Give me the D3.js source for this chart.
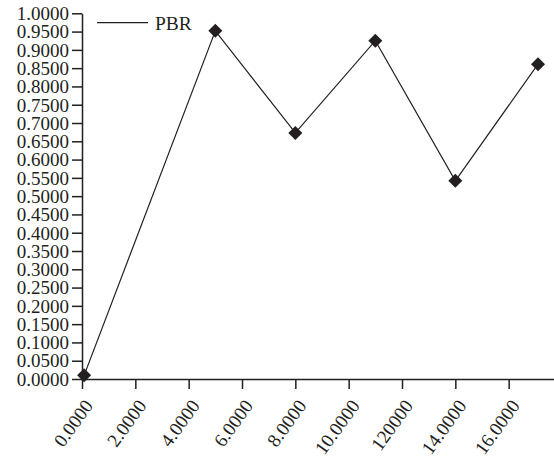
<!DOCTYPE html>
<html><head><meta charset="utf-8">
<script src="https://cdn.jsdelivr.net/npm/d3@7"></script>
<style>body{margin:0;background:#fff}svg{display:block}text{font-family:"Liberation Serif","Times New Roman",serif;fill:#231f20}</style>
</head><body><svg id="c" width="554" height="459"></svg>
<script>
const xValues = [0.08, 5.0, 8.0, 11.0, 14.0, 17.1];
const pbrValues = [0.01, 0.952, 0.673, 0.925, 0.542, 0.861];
const xTickValues = [0, 2, 4, 6, 8, 10, 12, 14, 16];
const xTickLabels = ["0.0000","2.0000","4.0000","6.0000","8.0000","10.0000","120000","14.0000","16.0000"];
const yTickValues = d3.range(0, 21).map(i => i * 0.05);
const seriesName = "PBR";

const svg = d3.select("#c");
const x = d3.scaleLinear().domain([0, 17.7]).range([82, 554]);
const y = d3.scaleLinear().domain([0, 1]).range([379, 13.3]);
const axisColor = "#231f20";

const yAxis = svg.append("g").attr("transform", "translate(82,0)")
  .call(d3.axisLeft(y).tickValues(yTickValues).tickFormat(d3.format(".4f")).tickSize(10).tickSizeOuter(0).tickPadding(3));
yAxis.selectAll("text").style("font-size", "19px").attr("dy", "0.33em");
yAxis.selectAll("line,path").attr("stroke", axisColor).attr("stroke-width", 1.5);

const xAxis = svg.append("g").attr("transform", "translate(0,379)")
  .call(d3.axisBottom(x).tickValues(xTickValues).tickFormat((d,i) => xTickLabels[i]).tickSize(10).tickSizeOuter(0));
xAxis.selectAll("line,path").attr("stroke", axisColor).attr("stroke-width", 1.5);
xAxis.selectAll("text").style("font-size", "19px")
  .attr("text-anchor", "end").attr("dy", "0.35em")
  .attr("transform", "translate(6,23) rotate(-54)")
  .attr("x", 0).attr("y", 0);

const line = d3.line().x((d,i) => x(xValues[i])).y(d => y(d));
svg.append("path").datum(pbrValues).attr("d", line)
  .attr("fill", "none").attr("stroke", "#231f20").attr("stroke-width", 1.2);

svg.selectAll("path.pt").data(pbrValues).enter().append("path").attr("class","pt")
  .attr("d", d3.symbol().type(d3.symbolSquare).size(98))
  .attr("transform", (d,i) => `translate(${x(xValues[i])},${y(d)}) rotate(45)`)
  .attr("fill", "#231f20");

svg.append("line").attr("x1", 97).attr("x2", 148).attr("y1", 22.7).attr("y2", 22.7)
  .attr("stroke", "#231f20").attr("stroke-width", 1.2);
svg.append("text").attr("x", 155).attr("y", 29.5).style("font-size", "19.5px").text(seriesName);
</script></body></html>
